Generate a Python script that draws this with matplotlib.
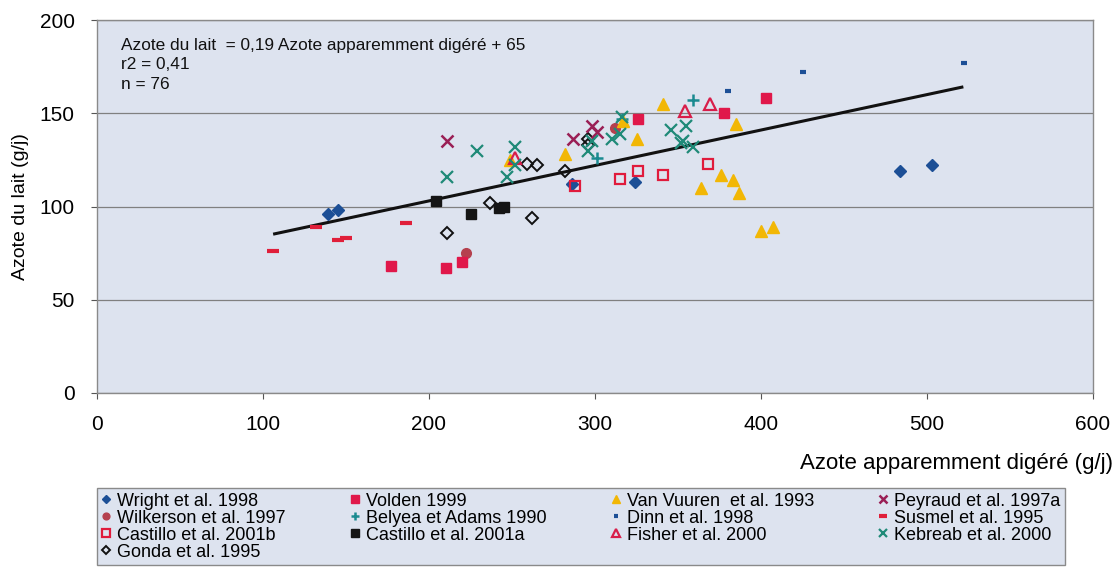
import matplotlib
matplotlib.use("Agg")
import matplotlib.pyplot as plt
import numpy as np

plt.rcParams['font.family'] = ['Liberation Sans', 'DejaVu Sans']

# ---- data ----
wright_x = [139, 145, 286, 324, 484, 503]
wright_y = [96, 98, 112, 113, 119, 122]
volden_x = [177, 210, 220, 326, 378, 403]
volden_y = [68, 67, 70, 147, 150, 158]
vanvuuren_x = [249, 282, 317, 325, 341, 364, 376, 383, 385, 387, 400, 407]
vanvuuren_y = [125, 128, 146, 136, 155, 110, 117, 114, 144, 107, 87, 89]
peyraud_x = [211, 287, 298, 301]
peyraud_y = [135, 136, 143, 140]
wilkerson_x = [222, 312]
wilkerson_y = [75, 142]
belyea_x = [301, 359, 316]
belyea_y = [126, 157, 147]
dinn_x = [380, 425, 522]
dinn_y = [162, 172, 177]
susmel_x = [106, 132, 145, 150, 186]
susmel_y = [76, 89, 82, 83, 91]
castillob_x = [288, 315, 326, 341, 368]
castillob_y = [111, 115, 119, 117, 123]
castilloa_x = [204, 225, 242, 245]
castilloa_y = [103, 96, 99, 100]
fisher_x = [252, 354, 369]
fisher_y = [126, 151, 155]
kebreab_x = [211, 229, 247, 252, 252, 296, 298, 310, 315, 316, 346, 352, 353, 355, 359]
kebreab_y = [116, 130, 116, 132, 122, 130, 135, 136, 139, 148, 141, 134, 135, 143, 132]
gonda_x = [211, 237, 259, 262, 265, 282, 296, 296]
gonda_y = [86, 102, 123, 94, 122, 119, 133, 136]

slope, intercept = 0.19, 65
fit_x = [107, 521]

xticks = [0, 100, 200, 300, 400, 500, 600]
yticks = [0, 50, 100, 150, 200]

W, H = 1118, 570
fig = plt.figure(figsize=(W / 100, H / 100), dpi=100)
fig.patch.set_facecolor('white')
ax = fig.add_axes([97 / W, 1 - 393 / H, (1093 - 97) / W, (393 - 20) / H])
bg = '#dde3ef'
ax.set_facecolor(bg)

ax.set_xlim(0, 600)
ax.set_ylim(0, 200)
ax.set_xticks(xticks)
ax.set_yticks(yticks)
ax.tick_params(labelsize=15, direction='out', length=4, color='#555555')
ax.tick_params(axis='x', pad=12)
ax.tick_params(axis='y', pad=12)
ax.yaxis.grid(True, color='#808080', linewidth=0.9)
ax.set_axisbelow(True)
for s in ax.spines.values():
    s.set_color('#8a8a8a')
    s.set_linewidth(1.0)

# regression line
fx = np.array(fit_x)
ax.plot(fx, slope * fx + intercept, color='#111111', linewidth=2.2, zorder=2)

series = [
    ("Wright et al. 1998", wright_x, wright_y, dict(marker='D', color='#1c4f96', ms=6, mec='#1c4f96')),
    ("Wilkerson et al. 1997", wilkerson_x, wilkerson_y, dict(marker='o', color='#b5404e', ms=7, mec='#b5404e')),
    ("Castillo et al. 2001b", castillob_x, castillob_y, dict(marker='s', color='none', ms=7.5, mec='#e01b3c', mew=1.6)),
    ("Gonda et al. 1995", gonda_x, gonda_y, dict(marker='D', color='none', ms=6, mec='#111111', mew=1.4)),
    ("Volden 1999", volden_x, volden_y, dict(marker='s', color='#e0184a', ms=7.5, mec='#e0184a')),
    ("Belyea et Adams 1990", belyea_x, belyea_y, dict(marker='+', color='#1a8a90', ms=9, mew=1.8)),
    ("Castillo et al. 2001a", castilloa_x, castilloa_y, dict(marker='s', color='#151515', ms=7.5, mec='#151515')),
    ("Van Vuuren  et al. 1993", vanvuuren_x, vanvuuren_y, dict(marker='^', color='#f2b705', ms=8.5, mec='#f2b705')),
    ("Dinn et al. 1998", dinn_x, dinn_y, dict(marker='_', color='#1c4f96', ms=5, mew=3)),
    ("Fisher et al. 2000", fisher_x, fisher_y, dict(marker='^', color='none', ms=8, mec='#d81e4a', mew=1.6)),
    ("Peyraud et al. 1997a", peyraud_x, peyraud_y, dict(marker='x', color='#9a1f55', ms=8, mew=1.8)),
    ("Susmel et al. 1995", susmel_x, susmel_y, dict(marker='_', color='#e01f3a', ms=8, mew=3)),
    ("Kebreab et al. 2000", kebreab_x, kebreab_y, dict(marker='x', color='#1f8a78', ms=8, mew=1.6)),
]

handles = []
for label, xs, ys, st in series:
    h, = ax.plot(xs, ys, linestyle='none', label=label, zorder=3, **st)
    handles.append(h)

ax.text(0.024, 0.952, "Azote du lait  = 0,19 Azote apparemment digéré + 65\nr2 = 0,41\nn = 76",
        transform=ax.transAxes, fontsize=12.4, va='top', ha='left', linespacing=1.38, color='#111111')

ax.set_ylabel("Azote du lait (g/j)", fontsize=14, labelpad=8)
fig.text(1113 / W, 1 - 463 / H, "Azote apparemment digéré (g/j)", fontsize=16, ha='right', va='center')

leg = fig.legend(handles=handles, loc='upper left', bbox_to_anchor=(97 / W, 1 - 488 / H),
                 borderaxespad=0,
                 ncol=4, fontsize=13, frameon=True, fancybox=False, edgecolor='#8a8a8a',
                 facecolor=bg, framealpha=1, handlelength=0.5, handletextpad=0.35,
                 columnspacing=3.6, labelspacing=0.0, borderpad=0.25, markerscale=0.7)
leg.get_frame().set_linewidth(1.0)

fig.savefig("out.png", dpi=100, facecolor='white')
